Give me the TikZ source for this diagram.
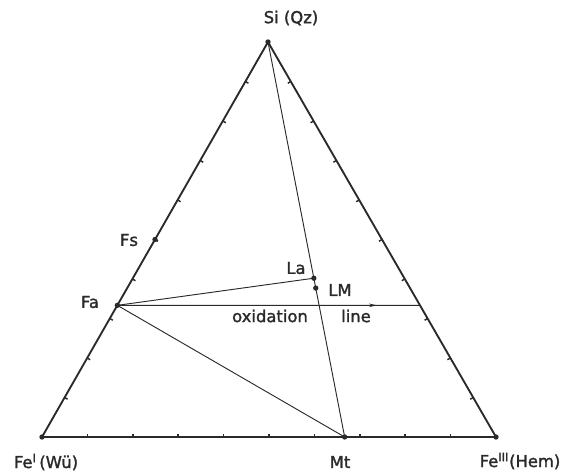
\documentclass[tikz,border=0pt]{standalone}
\usepackage{fontspec}
\newfontfamily\labfont{DejaVu Sans}[FakeBold=1.6]
\usetikzlibrary{calc,arrows.meta,decorations.markings}
\definecolor{ink}{HTML}{2A2A2A}
\tikzset{
  edge/.style={draw=ink, line width=1.4pt},
  inner/.style={draw=ink, line width=0.7pt},
  tickmark/.style={draw=ink, line width=1.1pt},
  lbl/.style={text=ink, font=\labfont\fontsize{12.3}{14}\selectfont, inner sep=0pt},
  dot/.style={circle, fill=ink, inner sep=0pt, minimum size=4pt},
}
\begin{document}
\begin{tikzpicture}[x=0.75pt,y=-0.75pt]
\useasboundingbox (0,0) rectangle (564,474);
\coordinate (si) at (268,42);
\coordinate (wu) at (42,437);
\coordinate (hem) at (496,437);
\coordinate (mt) at ($(wu)!2/3!(hem)$);
\coordinate (fa) at ($(wu)!1/3!(si)$);
\coordinate (fs) at ($(wu)!1/2!(si)$);
\coordinate (oxend) at ($(si)!2/3!(hem)$);
\coordinate (la) at ($(si)!0.598!(mt)$);
\coordinate (lm) at ($(si)!0.623!(mt)$);
% inner lines
\draw[inner] (si) -- (mt);
\draw[inner] (fa) -- (mt);
\draw[inner] (fa) -- (la);
\draw[inner, postaction={decorate}, decoration={markings, mark=at position 0.858 with {\arrow{Stealth[length=6pt,width=2.6pt]}}}] (fa) -- (oxend);
% triangle
\draw[edge, line join=round] (wu) -- (hem) -- (si) -- cycle;
% ticks
\foreach \a/\b in {wu/hem, hem/si, si/wu}{
  \foreach \k in {1,...,9}{
    \coordinate (t) at ($(\a)!\k/10!(\b)$);
    \draw[tickmark] (t) -- ($(t)!2.6pt!90:(\b)$);
  }
}
% dots
\foreach \p in {si,wu,hem,mt,fa,fs,la,lm}{\node[dot] at (\p) {};}
% labels
\node[lbl] (lsi) at (291,18) {Si (Qz)};
\node[lbl] (lwu) at (46,462) {Fe\textsuperscript{I}\,(Wü)};
\node[lbl] (lhem) at (520,461) {Fe\textsuperscript{III}(Hem)};
\node[lbl] (lmt) at (340,462) {Mt};
\node[lbl] (lfs) at (129,240) {Fs};
\node[lbl] (lfa) at (90,302) {Fa};
\node[lbl] (lla) at (296,268) {La};
\node[lbl] (llm) at (340,290) {LM};
\node[lbl] (lox) at (270,316) {oxidation};
\node[lbl] (lline) at (356,316) {line};
\end{tikzpicture}
\end{document}
